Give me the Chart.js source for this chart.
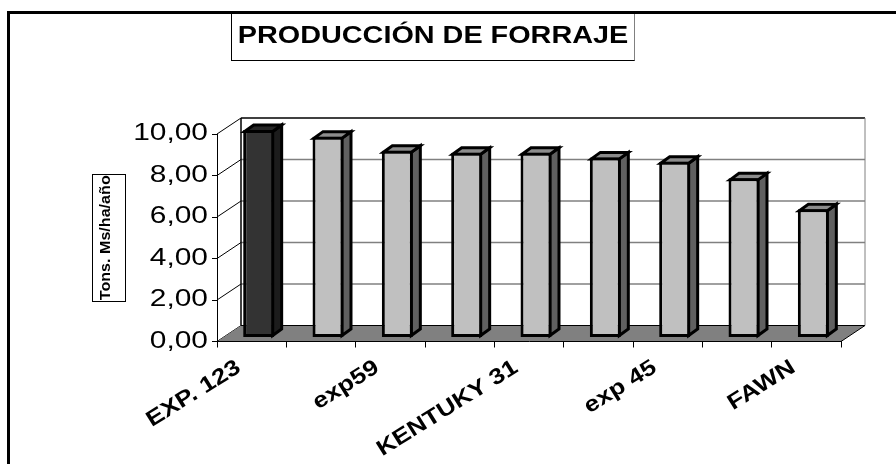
<!DOCTYPE html>
<html>
<head>
<meta charset="utf-8">
<style>html,body{margin:0;padding:0;background:#fff}canvas{display:block}</style>
<script src="https://cdn.jsdelivr.net/npm/chart.js@4"></script>
</head>
<body>
<canvas id="c" width="896" height="464"></canvas>
<script>
const categories = ['EXP. 123','','exp59','','KENTUKY 31','','exp 45','','FAWN'];
const produccion = [10.0,9.68,9.0,8.9,8.9,8.68,8.47,7.67,6.18];
const yTicks = [0,2,4,6,8,10];
const chartTitle = 'PRODUCCIÓN DE FORRAJE';
const yTitle = 'Tons. Ms/ha/año';
const frontFaces = ['#333333','#c0c0c0','#c0c0c0','#c0c0c0','#c0c0c0','#c0c0c0','#c0c0c0','#c0c0c0','#c0c0c0'];
const sideFaces = ['#1c1c1c','#606060','#606060','#606060','#606060','#606060','#606060','#606060','#606060'];
const topFaces = ['#262626','#8c8c8c','#8c8c8c','#8c8c8c','#8c8c8c','#8c8c8c','#8c8c8c','#8c8c8c','#8c8c8c'];

const WALL = {dx:24, dy:-16};
const BAR = {dx:7, dy:-4, sx:9, sy:-6.5};
const FONT = '"Liberation Sans", Arial, sans-serif';

// The reference's lettering is wider than its height; each font size gets its own horizontal stretch.
const textStretch = {'24px':1.2, '23px':1.3, '22px':1.18, '14px':1.15};
const canvas = document.getElementById('c');
const c2d = canvas.getContext('2d');
const rawFillText = c2d.fillText.bind(c2d);
c2d.fillText = function(t,x,y,m){
  const size=(c2d.font.match(/(\d+)px/)||[])[0];
  const k=textStretch[size]||1;
  c2d.save();
  c2d.translate(x,y);
  c2d.scale(k,1);
  rawFillText(t,0,0,m);
  c2d.restore();
};

function poly(ctx, pts, fill, stroke, lw){
  ctx.beginPath();
  pts.forEach((p,i)=> i ? ctx.lineTo(p[0],p[1]) : ctx.moveTo(p[0],p[1]));
  ctx.closePath();
  if(fill){ctx.fillStyle=fill;ctx.fill();}
  if(stroke){ctx.strokeStyle=stroke;ctx.lineWidth=lw;ctx.lineJoin='miter';ctx.stroke();}
}
function seg(ctx,x1,y1,x2,y2,c,w){
  ctx.beginPath();ctx.moveTo(x1,y1);ctx.lineTo(x2,y2);ctx.strokeStyle=c;ctx.lineWidth=w;ctx.stroke();
}

const scene = {
  id:'scene',
  beforeDraw(chart){
    const {ctx,chartArea:a,scales:{y}} = chart;
    ctx.save();
    ctx.fillStyle='#000';
    ctx.fillRect(7,11,889,3);
    ctx.fillRect(7,11,3,453);
    seg(ctx,231.5,14,231.5,60.5,'#000',1);
    seg(ctx,231,60.5,635,60.5,'#000',1);
    seg(ctx,634.5,14,634.5,60.5,'#808080',1);
    ctx.strokeStyle='#000';ctx.lineWidth=1;
    ctx.strokeRect(92.5,174.5,33,127);
    const L=a.left+WALL.dx,R=a.right+WALL.dx,T=a.top+WALL.dy,B=a.bottom+WALL.dy;
    yTicks.forEach(v=>{
      const p=y.getPixelForValue(v);
      if(v>0&&v<10) seg(ctx,L,p+WALL.dy,R,p+WALL.dy,'#808080',1.5);
      seg(ctx,a.left,p,L,p+WALL.dy,'#000',1);
    });
    poly(ctx,[[a.left,a.bottom],[L,B],[R,B],[a.right,a.bottom]],'#808080');
    seg(ctx,L,B,R,B,'#000',1);
    seg(ctx,L,T,R,T,'#000',1.5);
    seg(ctx,L,T,L,B,'#000',1.5);
    seg(ctx,R,T,R,B,'#808080',1);
    seg(ctx,R,B,a.right,a.bottom,'#000',1);
    ctx.restore();
  },
  beforeDatasetsDraw(chart){
    const ctx=chart.ctx;
    ctx.save();
    ctx.translate(BAR.dx,BAR.dy);
    chart.getDatasetMeta(0).data.forEach((b,i)=>{
      const r=b.x+b.width/2-1.5,t=b.y+1.5,bs=b.base-1.5,l=b.x-b.width/2+1.5;
      poly(ctx,[[r,t],[r+BAR.sx,t+BAR.sy],[r+BAR.sx,bs+BAR.sy],[r,bs]],sideFaces[i],'#000',3);
      poly(ctx,[[l,t],[l+BAR.sx,t+BAR.sy],[r+BAR.sx,t+BAR.sy],[r,t]],topFaces[i],'#000',3);
    });
  },
  afterDatasetsDraw(chart){
    chart.ctx.restore();
  }
};

new Chart(canvas,{
  type:'bar',
  data:{labels:categories,datasets:[{
    data:produccion,
    backgroundColor:frontFaces,
    borderColor:'#000',
    borderWidth:3,
    borderSkipped:false,
    barPercentage:0.447,
    categoryPercentage:1,
    clip:false
  }]},
  plugins:[scene],
  options:{
    responsive:false,
    animation:false,
    layout:{padding:{left:25,right:55,top:0,bottom:0}},
    plugins:{
      legend:{display:false},
      tooltip:{enabled:false},
      title:{display:true,text:chartTitle,color:'#000',
        font:{family:FONT,size:24,weight:'bold',lineHeight:1.2},
        padding:{top:22,bottom:83.2}}
    },
    scales:{
      x:{
        afterFit(s){s.height=122.5;},
        border:{display:true,color:'#000',width:1},
        grid:{display:true,drawOnChartArea:false,drawTicks:true,tickLength:6,color:'#000',offset:true},
        ticks:{autoSkip:false,maxRotation:32,minRotation:32,padding:7,labelOffset:-13,color:'#000',
          font:{family:FONT,size:22,weight:'bold'}}
      },
      y:{
        min:0,max:10,
        afterFit(s){s.width=192;},
        afterBuildTicks(s){s.ticks=yTicks.map(v=>({value:v}));},
        border:{display:true,color:'#000',width:1},
        grid:{display:true,drawOnChartArea:false,drawTicks:true,tickLength:5,color:'#000'},
        ticks:{padding:4,color:'#000',font:{family:FONT,size:23},
          callback:v=>v.toFixed(2).replace('.',',')},
        title:{display:true,text:yTitle,color:'#000',
          font:{family:FONT,size:14,weight:'bold'},
          padding:{top:73,bottom:0}}
      }
    }
  }
});
</script>
</body>
</html>
